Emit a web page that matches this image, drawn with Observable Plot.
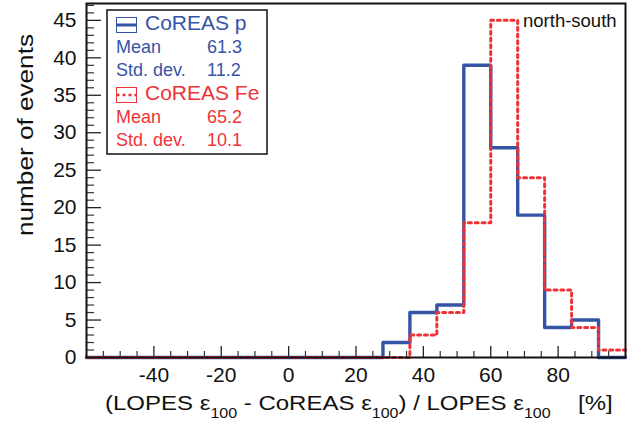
<!DOCTYPE html>
<html><head><meta charset="utf-8">
<script src="https://cdn.jsdelivr.net/npm/d3@7"></script>
<script src="https://cdn.jsdelivr.net/npm/@observablehq/plot@0.6"></script>
<style>body{margin:0;background:#fff} svg{display:block}</style>
</head><body><div id="chart"></div>
<script>
// ---- data ----
const binStarts = [-60,-52,-44,-36,-28,-20,-12,-4,4,12,20,28,36,44,52,60,68,76,84,92];
const binEnd = 100;
const countsP  = [0,0,0,0,0,0,0,0,0,0,0,2,6,7,39,28,19,4,5,0];
const countsFe = [0,0,0,0,0,0,0,0,0,0,0,0,3,6,18,45,24,9,4,1];
const xTickLabels = [-40,-20,0,20,40,60,80];
const xMinorTicks = [-55,-50,-45,-35,-30,-25,-15,-10,-5,5,10,15,25,30,35,45,50,55,65,70,75,85,90,95];
const yTickLabels = [0,5,10,15,20,25,30,35,40,45];
const seriesNames = ["CoREAS p","CoREAS Fe"];
const meanValues = ["61.3","65.2"];
const stdValues = ["11.2","10.1"];
const annotation = "north-south";

// ---- style ----
const blue = "#3654a6", red = "#ee3338";
const font = "'Liberation Sans', Arial, Helvetica, sans-serif";
const W = 642, H = 427, mL = 86, mR = 17, mT = 3, mB = 70;
const fw = W - mL - mR, fh = H - mT - mB;

function steps(counts) {
  const pts = binStarts.map((x, i) => ({x, y: counts[i]}));
  pts.push({x: binEnd, y: counts[counts.length - 1]});
  return pts;
}
const yMinor = d3.range(0, 48).filter(v => v % 5 !== 0);

const chart = Plot.plot({
  width: W, height: H,
  marginLeft: mL, marginRight: mR, marginTop: mT, marginBottom: mB,
  style: {fontFamily: font, color: "#111", background: "white"},
  x: {domain: [-60, 100], axis: null},
  y: {domain: [0, 47.25], axis: null},
  marks: [
    Plot.ruleX(xMinorTicks, {insetTop: fh - 6, stroke: "#333", strokeWidth: 1.2}),
    Plot.ruleX(xTickLabels, {insetTop: fh - 11, stroke: "#222", strokeWidth: 1.3}),
    Plot.ruleY(yMinor, {insetRight: fw - 8, stroke: "#333", strokeWidth: 1.2}),
    Plot.ruleY(yTickLabels, {insetRight: fw - 15, stroke: "#222", strokeWidth: 1.3}),
    Plot.axisX({ticks: xTickLabels, tickSize: 0, tickPadding: 10, fontSize: 21, label: null, tickFormat: d => String(d)}),
    Plot.axisY({ticks: yTickLabels, tickSize: 0, tickPadding: 10, fontSize: 21, label: null, tickFormat: d => String(d)}),
    Plot.line(steps(countsP), {x: "x", y: "y", curve: "step-after", stroke: blue, strokeWidth: 3.4}),
    Plot.line(steps(countsFe), {x: "x", y: "y", curve: "step-after", stroke: red, strokeWidth: 3, strokeDasharray: "3,3.8"}),
    Plot.frame({stroke: "#111", strokeWidth: 2})
  ]
});
document.getElementById("chart").appendChild(chart);

const svg = d3.select(chart);
const g = svg.append("g").attr("font-family", font).attr("text-anchor", "start");

// y title
g.append("text").attr("transform", "translate(33,34) rotate(-90)")
  .attr("text-anchor", "end").attr("font-size", 22).attr("fill", "#111")
  .attr("textLength", 202).attr("lengthAdjust", "spacingAndGlyphs")
  .text("number of events");

// x title
const xt = g.append("text").attr("x", 105).attr("y", 410).attr("font-size", 21).attr("fill", "#111");
function sub(t){ xt.append("tspan").attr("dy", 8).attr("font-size", 14).text(t); }
function norm(t, dx){ const s = xt.append("tspan").attr("dy", -8).text(t); if (dx) s.attr("dx", dx); }
xt.append("tspan").text("(LOPES \u03B5");
sub("100");
norm(" - CoREAS \u03B5");
sub("100");
norm(") / LOPES \u03B5");
sub("100");
norm("[%]", 24);
// stretch to the reference width
const bb = xt.node().getBBox();
xt.attr("transform", `translate(105,0) scale(${508 / bb.width},1) translate(-105,0)`);

// annotation
g.append("text").attr("x", 523).attr("y", 27).attr("font-size", 18.5).attr("fill", "#111").text(annotation);

// legend
g.append("rect").attr("x", 107).attr("y", 10).attr("width", 160).attr("height", 144)
  .attr("fill", "white").attr("stroke", "#111").attr("stroke-width", 1.5);
const rows = [
  {color: blue, y0: 10, dash: null},
  {color: red, y0: 80, dash: "3,3"}
];
rows.forEach((r, i) => {
  g.append("rect").attr("x", 116.5).attr("y", r.y0 + 7.5).attr("width", 20).attr("height", 15)
    .attr("fill", "none").attr("stroke", r.color).attr("stroke-width", 1);
  g.append("line").attr("x1", 116.5).attr("x2", 136.5).attr("y1", r.y0 + 15).attr("y2", r.y0 + 15)
    .attr("stroke", r.color).attr("stroke-width", i === 0 ? 3 : 2.6).attr("stroke-dasharray", r.dash);
  g.append("text").attr("x", 145).attr("y", r.y0 + 20).attr("font-size", 21).attr("fill", r.color).text(seriesNames[i]);
  g.append("text").attr("x", 116).attr("y", r.y0 + 43).attr("font-size", 18).attr("fill", r.color).text("Mean");
  g.append("text").attr("x", 207).attr("y", r.y0 + 43).attr("font-size", 18).attr("fill", r.color).text(meanValues[i]);
  g.append("text").attr("x", 116).attr("y", r.y0 + 66).attr("font-size", 18).attr("fill", r.color).text("Std. dev.");
  g.append("text").attr("x", 207).attr("y", r.y0 + 66).attr("font-size", 18).attr("fill", r.color).text(stdValues[i]);
});
</script>
</body></html>
